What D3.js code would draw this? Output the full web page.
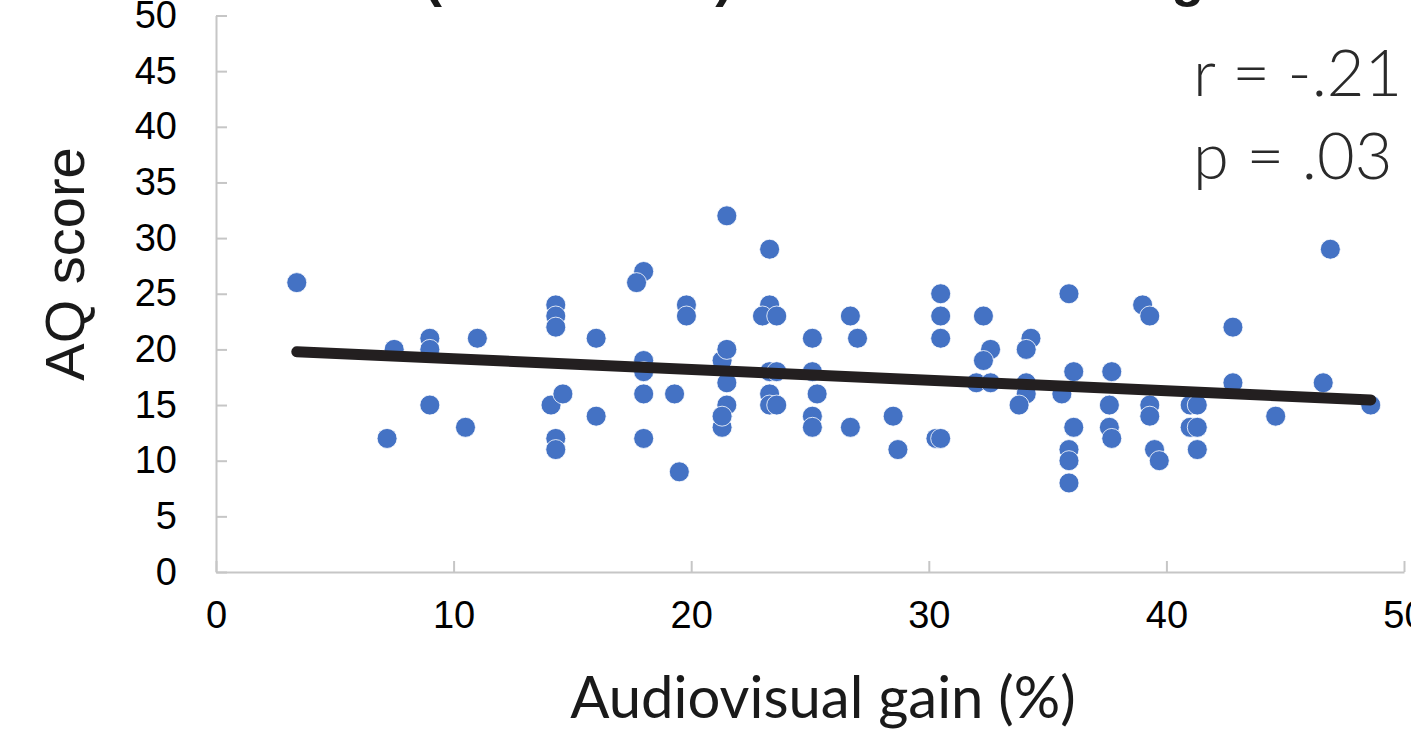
<!DOCTYPE html>
<html>
<head>
<meta charset="utf-8">
<script src="https://cdnjs.cloudflare.com/ajax/libs/d3/7.8.5/d3.min.js"></script>
<style>
  html, body { margin: 0; padding: 0; background: #fff; overflow: hidden; }
  svg { display: block; }
</style>
</head>
<body>
<div id="chart"></div>
<script>
// audiovisual gain (%) and AQ score per participant
const gainValues = [
  3.4, 7.5, 7.2, 9.0, 9.0, 9.0, 10.5, 11.0,
  14.3, 14.3, 14.3, 14.1, 14.6, 14.3, 14.3, 16.0, 16.0,
  18.0, 17.7, 19.8, 19.8, 18.0, 18.0, 18.0, 19.3, 18.0, 19.5,
  21.5, 21.3, 21.5, 21.5, 21.3, 21.3, 21.5, 21.3,
  23.3, 23.3, 23.0, 23.6, 23.3, 23.6, 23.3, 23.3, 23.6,
  25.1, 25.1, 25.3, 25.1, 25.1, 26.7, 27.0, 26.7,
  28.5, 28.7, 30.3, 30.5, 30.5, 30.5, 30.5,
  32.3, 32.6, 32.3, 32.0, 32.6,
  34.3, 34.1, 34.1, 34.1, 33.8,
  35.9, 36.1, 35.6, 36.1, 35.9, 35.9, 35.9,
  37.7, 37.6, 37.6, 37.7,
  39.0, 39.3, 39.3, 39.3, 39.5, 39.7,
  41.0, 41.3, 41.0, 41.3, 41.3,
  42.8, 42.8, 44.6, 46.6, 46.9, 48.6
];
const aqValues = [
  26, 20, 12, 21, 20, 15, 13, 21,
  24, 23, 22, 15, 16, 12, 11, 21, 14,
  27, 26, 24, 23, 19, 18, 16, 16, 12, 9,
  32, 19, 20, 17, 14, 13, 15, 14,
  29, 24, 23, 23, 18, 18, 16, 15, 15,
  21, 18, 16, 14, 13, 23, 21, 13,
  14, 11, 12, 12, 25, 23, 21,
  23, 20, 19, 17, 17,
  21, 20, 17, 16, 15,
  25, 18, 16, 13, 11, 10, 8,
  18, 15, 13, 12,
  24, 23, 15, 14, 11, 10,
  15, 15, 13, 13, 11,
  22, 17, 14, 17, 29, 15
];

// fitted trend line (intercept, slope) and its x extent
const trendCoef = [20.12, -0.0961];
const trendRange = [3.4, 48.6];

const xTicks = [0, 10, 20, 30, 40, 50];
const yTicks = [0, 5, 10, 15, 20, 25, 30, 35, 40, 45, 50];

const statLines = ["r = -.21", "p = .03"];
const titleText = "Autistic traits (total score) and audiovisual gain";

const width = 1411, height = 731;
const svg = d3.select("#chart").append("svg")
  .attr("width", width)
  .attr("height", height);

const x = d3.scaleLinear().domain([0, 50]).range([216, 1404]);
const y = d3.scaleLinear().domain([0, 50]).range([572, 15.5]);

// title: only its descenders show at the top edge
svg.append("text")
  .attr("x", 64)
  .attr("y", -4)
  .style("font-family", "'Liberation Sans', Arial, sans-serif")
  .style("font-weight", "bold")
  .style("font-size", "54px")
  .attr("fill", "#1a1a1a")
  .text(titleText);

// axes
const yAxis = svg.append("g")
  .attr("transform", "translate(216,0)")
  .call(d3.axisLeft(y).tickValues(yTicks).tickSizeInner(-11).tickSizeOuter(0).tickPadding(39));

const xAxis = svg.append("g")
  .attr("transform", "translate(0,572)")
  .call(d3.axisBottom(x).tickValues(xTicks).tickSizeInner(-11).tickSizeOuter(0).tickPadding(29));

[xAxis, yAxis].forEach(g => {
  g.selectAll("path, line").attr("stroke", "#c6c6c6").attr("stroke-width", 2);
  g.selectAll("text")
    .attr("fill", "#000")
    .style("font-family", "'Liberation Sans', Arial, sans-serif")
    .style("font-size", "38px");
});

// points
const points = gainValues.map((g, i) => ({ gain: g, aq: aqValues[i] }));
svg.append("g")
  .selectAll("circle")
  .data(points)
  .join("circle")
  .attr("cx", d => x(d.gain))
  .attr("cy", d => y(d.aq))
  .attr("r", 10)
  .attr("fill", "#4472c4")
  .attr("stroke", "#ffffff")
  .attr("stroke-width", 0.8);

// trend line
const line = d3.line()
  .x(d => x(d))
  .y(d => y(trendCoef[0] + trendCoef[1] * d));
svg.append("path")
  .datum(trendRange)
  .attr("d", line)
  .attr("fill", "none")
  .attr("stroke", "#231f20")
  .attr("stroke-width", 11)
  .attr("stroke-linecap", "round");

// axis titles
svg.append("text")
  .attr("transform", "translate(84,264) rotate(-90)")
  .attr("text-anchor", "middle")
  .style("font-family", "'Liberation Sans', Arial, sans-serif")
  .style("font-size", "56px")
  .attr("fill", "#1a1a1a")
  .text("AQ score");

svg.append("text")
  .attr("x", 823)
  .attr("y", 718)
  .attr("text-anchor", "middle")
  .style("font-family", "Lato, sans-serif")
  .style("font-size", "58px")
  .attr("fill", "#1a1a1a")
  .text("Audiovisual gain (%)");

// correlation stats
svg.append("g")
  .selectAll("text")
  .data(statLines)
  .join("text")
  .attr("x", 1193)
  .attr("y", (d, i) => 96 + i * 83)
  .style("font-family", "Lato, sans-serif")
  .style("font-weight", 300)
  .style("font-size", "65px")
  .attr("fill", "#2a2a2a")
  .text(d => d);
</script>
</body>
</html>
